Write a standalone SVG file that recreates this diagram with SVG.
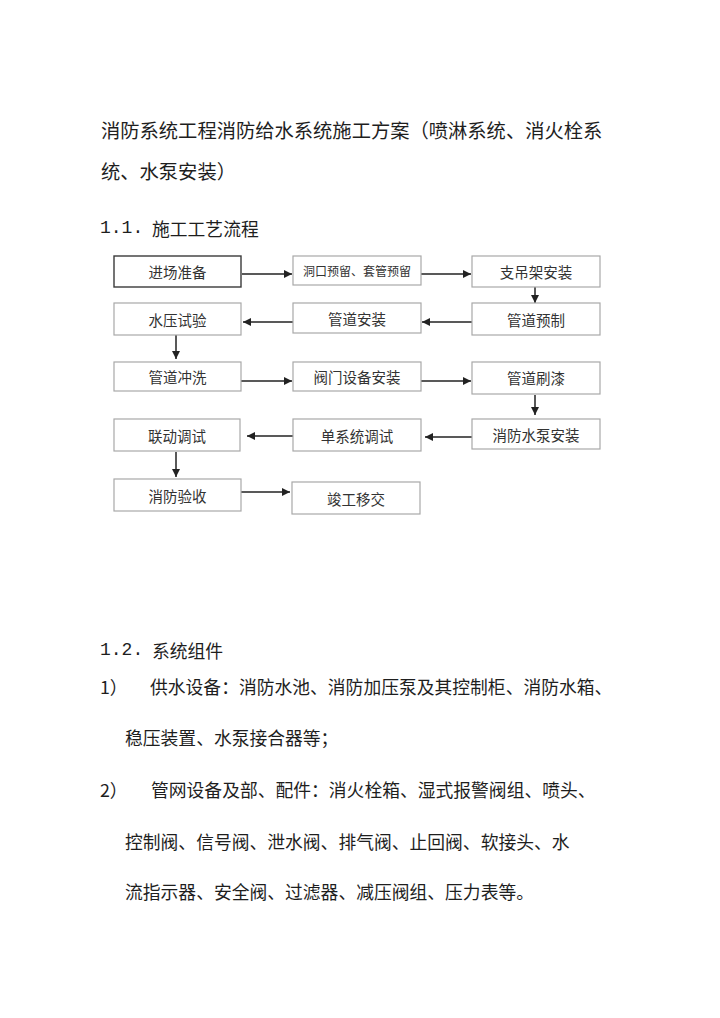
<svg xmlns="http://www.w3.org/2000/svg" width="720" height="1018" viewBox="0 0 720 1018">
<style>
  .t { font-family: "Noto Sans CJK SC", "Noto Sans", sans-serif; fill: #1e1e1e; dominant-baseline: central; }
  .title { font-size: 19.3px; }
  .body { font-size: 17.8px; }
  .num { font-family: "Liberation Mono", "DejaVu Sans Mono", monospace; font-size: 18px; fill: #1e1e1e; dominant-baseline: central; }
  .box { fill: #ffffff; stroke: #a8a8a8; stroke-width: 1.2; }
  .box.strong { stroke: #3a3a3a; stroke-width: 1.4; }
  .lbl { font-family: "Noto Sans CJK SC", "Noto Sans", sans-serif; font-size: 14.5px; fill: #333; text-anchor: middle; dominant-baseline: central; }
  .lbl.small { font-size: 12px; }
  .conn { stroke: #222; stroke-width: 1.5; fill: none; marker-end: url(#arr); }
</style>
<defs>
  <marker id="arr" markerUnits="userSpaceOnUse" markerWidth="9" markerHeight="8" refX="8" refY="4" orient="auto">
    <path d="M0,0 L8,4 L0,8 Z" fill="#222"/>
  </marker>
</defs>
<rect width="720" height="1018" fill="#ffffff"/>

<g id="heading">
  <text class="t title" x="101" y="130">消防系统工程消防给水系统施工方案（喷淋系统、消火栓系</text>
  <text class="t title" x="101" y="171">统、水泵安装）</text>
  <text class="num" x="100" y="228">1.1.</text>
  <text class="t body" x="152" y="228">施工工艺流程</text>
</g>

<g id="connectors">
  <line class="conn" x1="242" y1="274" x2="292" y2="274"/>
  <line class="conn" x1="421" y1="274" x2="471" y2="274"/>
  <line class="conn" x1="535" y1="287" x2="535" y2="303"/>
  <line class="conn" x1="472" y1="322" x2="422" y2="322"/>
  <line class="conn" x1="293" y1="322" x2="243" y2="322"/>
  <line class="conn" x1="176" y1="335" x2="176" y2="359"/>
  <line class="conn" x1="241" y1="381" x2="292" y2="381"/>
  <line class="conn" x1="421" y1="381" x2="471" y2="381"/>
  <line class="conn" x1="535" y1="395" x2="535" y2="415"/>
  <line class="conn" x1="472" y1="437" x2="425" y2="437"/>
  <line class="conn" x1="293" y1="436" x2="247" y2="436"/>
  <line class="conn" x1="176" y1="452" x2="176" y2="477"/>
  <line class="conn" x1="241" y1="492" x2="290" y2="492"/>
</g>

<g id="n1"><rect class="box strong" x="114" y="256" width="127" height="31"/><text class="lbl" x="177.5" y="271.5">进场准备</text></g>
<g id="n2"><rect class="box" x="293" y="256" width="128" height="29"/><text class="lbl small" x="357" y="270.5">洞口预留、套管预留</text></g>
<g id="n3"><rect class="box" x="472" y="256" width="128" height="31"/><text class="lbl" x="536" y="271.5">支吊架安装</text></g>

<g id="n4"><rect class="box" x="114" y="303" width="127" height="32"/><text class="lbl" x="177.5" y="319">水压试验</text></g>
<g id="n5"><rect class="box" x="293" y="303" width="128" height="30"/><text class="lbl" x="357" y="318">管道安装</text></g>
<g id="n6"><rect class="box" x="472" y="303" width="128" height="32"/><text class="lbl" x="536" y="319">管道预制</text></g>

<g id="n7"><rect class="box" x="114" y="362" width="127" height="29"/><text class="lbl" x="177.5" y="376.5">管道冲洗</text></g>
<g id="n8"><rect class="box" x="293" y="362" width="128" height="29"/><text class="lbl" x="357" y="376.5">阀门设备安装</text></g>
<g id="n9"><rect class="box" x="472" y="362" width="128" height="32"/><text class="lbl" x="536" y="377">管道刷漆</text></g>

<g id="n10"><rect class="box" x="114" y="419" width="126" height="32"/><text class="lbl" x="177" y="435">联动调试</text></g>
<g id="n11"><rect class="box" x="293" y="419" width="128" height="32"/><text class="lbl" x="357" y="435">单系统调试</text></g>
<g id="n12"><rect class="box" x="472" y="419" width="128" height="30"/><text class="lbl" x="536" y="434">消防水泵安装</text></g>

<g id="n13"><rect class="box" x="114" y="479" width="127" height="32"/><text class="lbl" x="177.5" y="495">消防验收</text></g>
<g id="n14"><rect class="box" x="292" y="482" width="128" height="32"/><text class="lbl" x="356" y="498">竣工移交</text></g>

<g id="components">
  <text class="num" x="100" y="650">1.2.</text>
  <text class="t body" x="152" y="650">系统组件</text>
  <text class="t body" x="100" y="686">1）</text>
  <text class="t body" x="150" y="686">供水设备：消防水池、消防加压泵及其控制柜、消防水箱、</text>
  <text class="t body" x="125" y="737">稳压装置、水泵接合器等；</text>
  <text class="t body" x="100" y="789">2）</text>
  <text class="t body" x="151" y="789">管网设备及部、配件：消火栓箱、湿式报警阀组、喷头、</text>
  <text class="t body" x="125" y="841">控制阀、信号阀、泄水阀、排气阀、止回阀、软接头、水</text>
  <text class="t body" x="125" y="891">流指示器、安全阀、过滤器、减压阀组、压力表等。</text>
</g>
</svg>
